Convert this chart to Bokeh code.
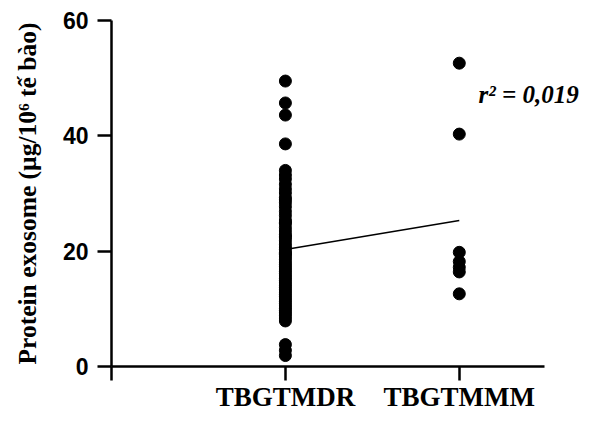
from bokeh.plotting import figure
from bokeh.models import Range1d, FixedTicker, Label
from bokeh.embed import file_html
from bokeh.resources import INLINE
import numpy as np

categories = ["TBGTMDR", "TBGTMMM"]
tbgtmdr = [49.5, 45.7, 43.6, 38.6,
           34.0, 33.2, 32.5, 31.6, 30.8, 30.1, 29.3, 28.9, 28.4, 27.7, 26.9,
           26.2, 25.4, 25.0, 24.8, 24.1, 23.5, 22.9, 22.6, 22.3, 21.8, 21.2, 20.7,
           20.3, 19.8, 19.6, 19.4, 19.0, 18.6, 18.1, 17.7, 17.3, 16.9, 16.5,
           16.1, 15.7, 15.3, 14.9, 14.5, 14.1, 13.7, 13.3, 12.9, 12.5,
           12.1, 11.7, 11.3, 10.9, 10.5, 10.1, 9.7, 9.3, 8.9, 8.4, 7.9,
           3.8, 2.8, 1.9]
tbgtmmm = [52.6, 40.3, 19.8, 18.2, 17.2, 16.4, 12.6]
y_ticks = [0, 20, 40, 60]
r2_text = "r\u00b2 = 0,019"

xs = [1] * len(tbgtmdr) + [2] * len(tbgtmmm)
ys = tbgtmdr + tbgtmmm
slope, intercept = np.polyfit(xs, ys, 1)
fit_x = [1, 2]
fit_y = [intercept + slope * v for v in fit_x]

W, H = 584, 414
p = figure(width=W, height=H, output_backend="svg", toolbar_location=None,
           x_range=Range1d(0, 2.72), y_range=Range1d(0, 60),
           min_border_left=111, min_border_right=0, min_border_top=20,
           min_border_bottom=46)
p.outline_line_color = None
p.grid.visible = False

p.scatter(xs, ys, size=12, color="black")
p.line(fit_x, fit_y, line_color="black", line_width=1.5)

p.add_layout(Label(x=2.11, y=47.1, text=r2_text, text_font="Liberation Serif",
                   text_font_style="bold italic", text_font_size="25px",
                   text_baseline="middle", text_align="left", text_color="black"))

xa = p.xaxis[0]
xa.ticker = FixedTicker(ticks=[0, 1, 2])
xa.bounds = (0, 2.49)
xa.major_label_overrides = {0: "", 1: categories[0], 2: categories[1]}
xa.minor_tick_line_color = None
xa.major_tick_in = 0
xa.major_tick_out = 14
xa.axis_line_width = 2.5
xa.major_tick_line_width = 2.5
xa.major_label_text_font = "Liberation Serif"
xa.major_label_text_font_style = "bold"
xa.major_label_text_font_size = "27px"
xa.major_label_text_color = "black"
xa.major_label_standoff = 1

ya = p.yaxis[0]
ya.ticker = FixedTicker(ticks=y_ticks)
ya.minor_tick_line_color = None
ya.major_tick_in = 0
ya.major_tick_out = 14
ya.axis_line_width = 2.5
ya.major_tick_line_width = 2.5
ya.major_label_text_font = "Liberation Sans"
ya.major_label_text_font_style = "bold"
ya.major_label_text_font_size = "23px"
ya.major_label_text_color = "black"
ya.major_label_standoff = 9
ya.axis_label = "Protein exosome (\u00b5g/10\u2076 t\u1ebf b\u00e0o)"
ya.axis_label_text_font = "Liberation Serif"
ya.axis_label_text_font_style = "bold"
ya.axis_label_text_font_size = "25.5px"
ya.axis_label_text_color = "black"
ya.axis_label_standoff = 18

open("out.html", "w").write(file_html(p, INLINE))
